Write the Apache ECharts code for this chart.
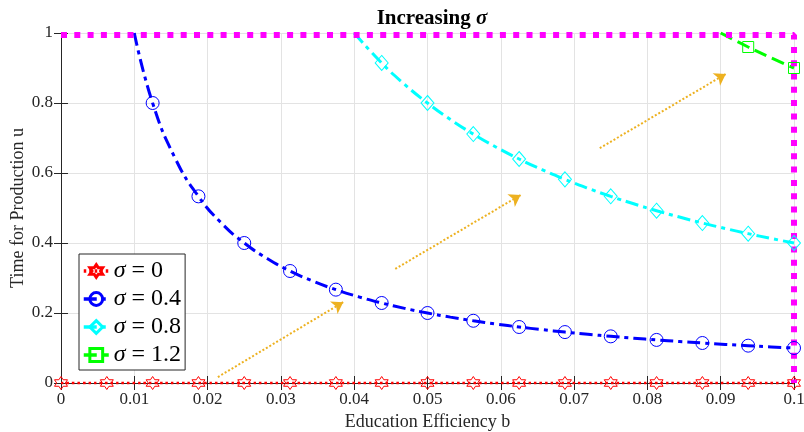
<!DOCTYPE html>
<html>
<head>
<meta charset="utf-8">
<script src="https://cdn.jsdelivr.net/npm/echarts@6/dist/echarts.min.js"></script>
<style>
html, body { margin: 0; padding: 0; background: #fff; }
#chart { width: 804px; height: 432px; }
</style>
</head>
<body>
<div id="chart"></div>
<script>
// education efficiency b, sampled grid (markers on every other point)
var bGrid = [0, 0.003125, 0.00625, 0.009375, 0.0125, 0.015625, 0.01875, 0.021875,
	0.025, 0.028125, 0.03125, 0.034375, 0.0375, 0.040625, 0.04375, 0.046875,
	0.05, 0.053125, 0.05625, 0.059375, 0.0625, 0.065625, 0.06875, 0.071875,
	0.075, 0.078125, 0.08125, 0.084375, 0.0875, 0.090625, 0.09375, 0.096875, 0.1];

// sigma = 0 : u stays at 0
var u00 = [0, 0, 0, 0, 0, 0, 0, 0, 0, 0, 0, 0, 0, 0, 0, 0, 0,
	0, 0, 0, 0, 0, 0, 0, 0, 0, 0, 0, 0, 0, 0, 0, 0];

// sigma = 0.4 : leaves u = 1 at b = 0.01
var b04 = [0.01].concat(bGrid.slice(4));
var u04 = [1, 0.8, 0.64, 0.5333, 0.4571, 0.4, 0.3556, 0.32, 0.2909, 0.2667,
	0.2462, 0.2286, 0.2133, 0.2, 0.1882, 0.1778, 0.1684, 0.16, 0.1524, 0.1455,
	0.1391, 0.1333, 0.128, 0.1231, 0.1185, 0.1143, 0.1103, 0.1067, 0.1032, 0.1];

// sigma = 0.8 : leaves u = 1 at b = 0.04
var b08 = [0.04].concat(bGrid.slice(14));
var u08 = [1, 0.9143, 0.8533, 0.8, 0.7529, 0.7111, 0.6737, 0.64, 0.6095, 0.5818,
	0.5565, 0.5333, 0.512, 0.4923, 0.4741, 0.4571, 0.4414, 0.4267, 0.4129, 0.4];

// sigma = 1.2 : leaves u = 1 at b = 0.09
var b12 = [0.09, 0.09375, 0.096875, 0.1];
var u12 = [1, 0.96, 0.929, 0.9];

// boundary u = 1 and b = 0.1
var boundB = [0, 0.1, 0.1];
var boundU = [0.994, 0.994, 0];

// "increasing sigma" arrows [b0, u0, b1, u1]
var arrows = [
	[0.0214, 0.017, 0.0385, 0.231],
	[0.0456, 0.326, 0.0627, 0.537],
	[0.0735, 0.671, 0.0907, 0.883]
];

var xLabels = ['0', '0.01', '0.02', '0.03', '0.04', '0.05', '0.06', '0.07', '0.08', '0.09', '0.1'];
var yLabels = ['0', '0.2', '0.4', '0.6', '0.8', '1'];
var seriesNames = ['σ = 0', 'σ = 0.4', 'σ = 0.8', 'σ = 1.2'];

var markStep = 0.00625;
var serif = 'Liberation Serif';
var axisColor = '#262626';
var hexagram = 'path://M50 0 L64.43 25 L93.3 25 L78.87 50 L93.3 75 L64.43 75 L50 100 L35.57 75 L6.7 75 L21.13 50 L6.7 25 L35.57 25 Z';

function isMark(b) {
	var k = b / markStep;
	return Math.abs(k - Math.round(k)) < 1e-6;
}

function curve(name, bs, us, color, dash, width, symbol, size) {
	return {
		name: name,
		type: 'line',
		clip: false,
		smooth: 0.5,
		showAllSymbol: true,
		symbol: symbol,
		symbolSize: size,
		lineStyle: { color: color, width: width, type: dash, cap: 'butt' },
		itemStyle: { color: 'rgba(0,0,0,0)', borderColor: color, borderWidth: 1 },
		data: bs.map(function (b, i) {
			return { value: [b, us[i]], symbol: isMark(b) ? symbol : 'none' };
		})
	};
}

function legendItem(name) {
	return { name: name, itemStyle: { borderWidth: 3 }, lineStyle: { width: 3.5 } };
}

var chart = echarts.init(document.getElementById('chart'));

var option = {
	animation: false,
	backgroundColor: '#fff',
	title: {
		text: '{t|Increasing }{s|σ}',
		left: 427,
		top: 3,
		textAlign: 'center',
		textStyle: {
			rich: {
				t: { fontFamily: serif, fontWeight: 'bold', fontSize: 21, color: '#000' },
				s: { fontFamily: serif, fontWeight: 'bold', fontStyle: 'italic', fontSize: 21, color: '#000' }
			}
		}
	},
	legend: {
		orient: 'vertical',
		left: 79,
		top: 254,
		padding: [5, 4, 3, 3],
		itemGap: 4,
		itemWidth: 25,
		itemHeight: 16,
		backgroundColor: '#fff',
		borderColor: axisColor,
		borderWidth: 1,
		borderRadius: 0,
		data: seriesNames.map(legendItem),
		formatter: function (name) {
			return '{i|σ}' + name.slice(1);
		},
		textStyle: {
			fontFamily: serif,
			fontSize: 24,
			lineHeight: 24,
			color: '#000',
			rich: {
				i: { fontFamily: serif, fontStyle: 'italic', fontSize: 24, lineHeight: 24, color: '#000' }
			}
		}
	},
	grid: { left: 61, right: 10, top: 33, bottom: 49, containLabel: false, outerBoundsMode: 'none' },
	xAxis: [{
		type: 'value',
		min: 0,
		max: 0.1,
		interval: 0.01,
		position: 'bottom',
		name: 'Education Efficiency b',
		nameLocation: 'middle',
		nameGap: 30,
		nameMoveOverlap: false,
		nameTextStyle: { fontFamily: serif, fontSize: 18, color: axisColor },
		axisLine: { show: true, lineStyle: { color: axisColor, width: 1 } },
		axisTick: { show: true, inside: true, length: 7, lineStyle: { color: axisColor } },
		axisLabel: {
			margin: 8,
			fontFamily: serif,
			fontSize: 17,
			color: axisColor,
			formatter: function (v) { return xLabels[Math.round(v / 0.01)]; }
		},
		splitLine: { show: true, lineStyle: { color: '#e3e3e3', width: 1 } }
	}, {
		type: 'value',
		min: 0,
		max: 0.1,
		interval: 0.01,
		position: 'top',
		axisLine: { show: true, lineStyle: { color: axisColor, width: 1 } },
		axisTick: { show: true, inside: true, length: 7, lineStyle: { color: axisColor } },
		axisLabel: { show: false },
		splitLine: { show: false }
	}],
	yAxis: [{
		type: 'value',
		min: 0,
		max: 1,
		interval: 0.2,
		position: 'left',
		name: 'Time for Production u',
		nameLocation: 'middle',
		nameRotate: 90,
		nameGap: 34,
		nameMoveOverlap: false,
		nameTextStyle: { fontFamily: serif, fontSize: 18, color: axisColor },
		axisLine: { show: true, lineStyle: { color: axisColor, width: 1 } },
		axisTick: { show: true, inside: true, length: 7, lineStyle: { color: axisColor } },
		axisLabel: {
			margin: 8,
			fontFamily: serif,
			fontSize: 17,
			color: axisColor,
			formatter: function (v) { return yLabels[Math.round(v / 0.2)]; }
		},
		splitLine: { show: true, lineStyle: { color: '#e3e3e3', width: 1 } }
	}, {
		type: 'value',
		min: 0,
		max: 1,
		interval: 0.2,
		position: 'right',
		axisLine: { show: true, lineStyle: { color: axisColor, width: 1 } },
		axisTick: { show: true, inside: true, length: 7, lineStyle: { color: axisColor } },
		axisLabel: { show: false },
		splitLine: { show: false }
	}],
	series: [
		curve(seriesNames[0], bGrid, u00, '#ff0000', [2.5, 3], 2.5, hexagram, 13),
		curve(seriesNames[1], b04, u04, '#0000ff', [13, 5, 4, 5], 3, 'circle', 13),
		curve(seriesNames[2], b08, u08, '#00ffff', [13, 5, 4, 5], 3, 'diamond', [13, 15]),
		curve(seriesNames[3], b12, u12, '#00ff00', [13, 6], 3, 'rect', 11),
		{
			name: 'bound',
			type: 'line',
			clip: false,
			symbol: 'none',
			lineStyle: { color: '#ff00ff', width: 6, type: [6, 7.3], cap: 'butt' },
			data: boundB.map(function (b, i) { return [b, boundU[i]]; }),
			markLine: {
				silent: true,
				symbol: ['none', 'arrow'],
				symbolSize: 11,
				label: { show: false },
				itemStyle: { color: '#EDB120' },
				lineStyle: { color: '#EDB120', width: 2, type: [2, 2] },
				data: arrows.map(function (a) {
					return [{ coord: [a[0], a[1]] }, { coord: [a[2], a[3]] }];
				})
			}
		}
	]
};

chart.setOption(option);
</script>
</body>
</html>
